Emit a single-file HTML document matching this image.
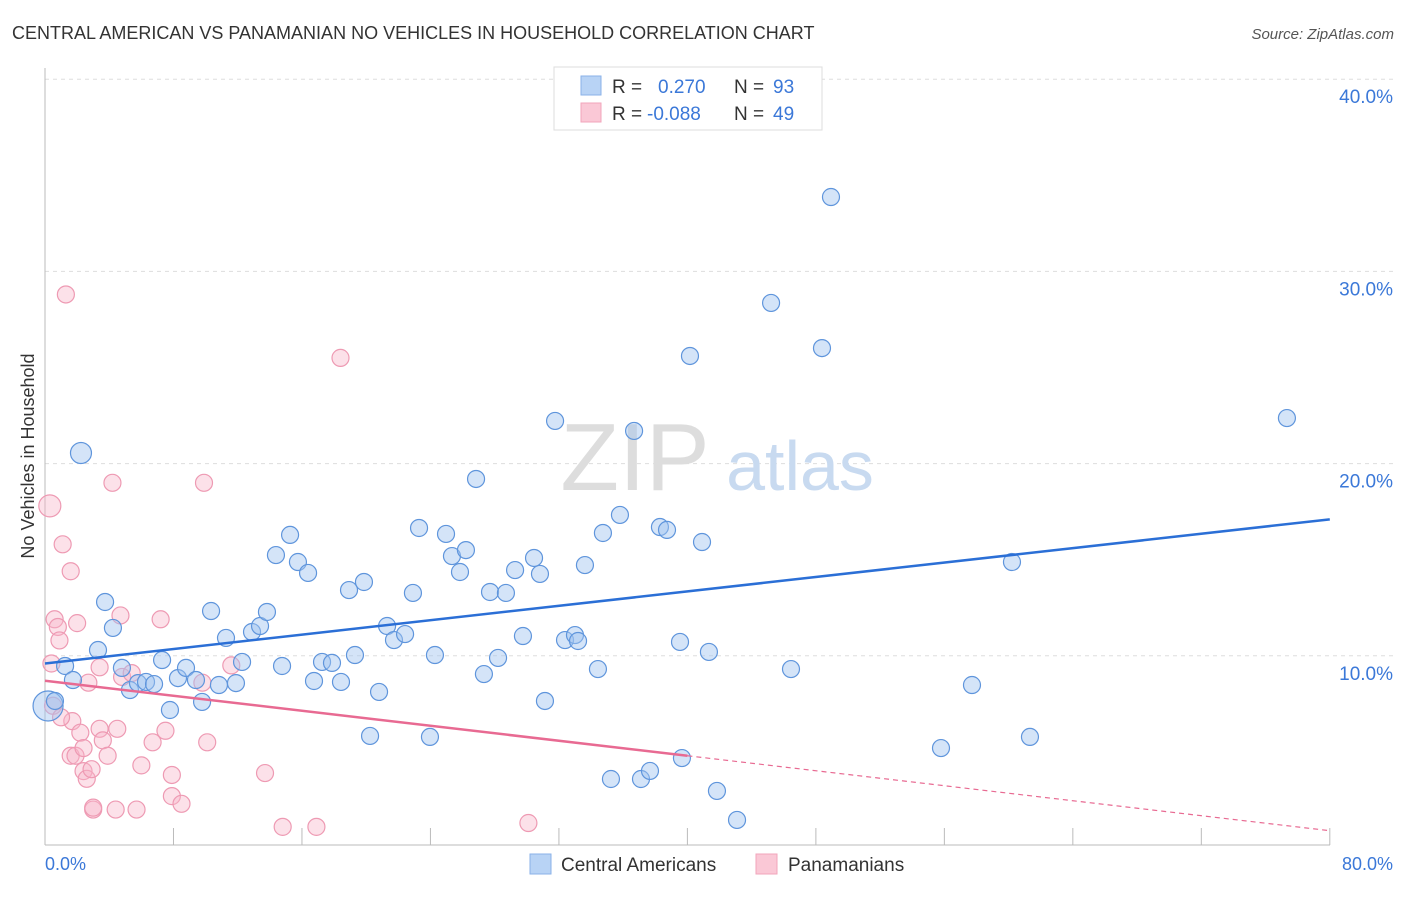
<!DOCTYPE html>
<html><head><meta charset="utf-8"><style>
body{margin:0;background:#fff;font-family:"Liberation Sans",sans-serif}
svg text{font-family:"Liberation Sans",sans-serif}
</style></head><body>
<svg width="1406" height="892" viewBox="0 0 1406 892">
<text x="12" y="39" font-size="18" fill="#333">CENTRAL AMERICAN VS PANAMANIAN NO VEHICLES IN HOUSEHOLD CORRELATION CHART</text>
<text x="1394" y="39" font-size="15" fill="#555" font-style="italic" text-anchor="end">Source: ZipAtlas.com</text>
<g id="grid"></g>
<text x="635" y="490" font-size="96" fill="#ddd" font-family="Liberation Serif" text-anchor="middle">ZIP</text>
<text x="800" y="490" font-size="70" fill="#c8daf0" text-anchor="middle">atlas</text>
<line x1="45" y1="68" x2="45" y2="845" stroke="#bbb"/>
<line x1="45" y1="845" x2="1330" y2="845" stroke="#bbb"/>
<g id="xticks"></g>
<g id="yticks"></g>
<text x="45" y="870" font-size="18" fill="#3b78d8">0.0%</text>
<text x="1393" y="870" font-size="18" fill="#3b78d8" text-anchor="end">80.0%</text>
<text transform="translate(34,456) rotate(-90)" font-size="18" fill="#333" text-anchor="middle">No Vehicles in Household</text>
<g id="pink"></g>
<g id="blue"></g>
<g id="trends"></g>
<g>
<rect x="554" y="67" width="268" height="63" fill="#fff" stroke="#ddd"/>
<rect x="581" y="76" width="20" height="19" fill="#b8d3f5" stroke="#8ab2e8"/>
<rect x="581" y="103" width="20" height="19" fill="#fac8d6" stroke="#f2a5bb"/>
<text x="612" y="93" font-size="19" fill="#333">R =</text><text x="658" y="93" font-size="19" fill="#3b78d8">0.270</text>
<text x="734" y="93" font-size="19" fill="#333">N =</text><text x="773" y="93" font-size="19" fill="#3b78d8">93</text>
<text x="612" y="120" font-size="19" fill="#333">R =</text><text x="647" y="120" font-size="19" fill="#3b78d8">-0.088</text>
<text x="734" y="120" font-size="19" fill="#333">N =</text><text x="773" y="120" font-size="19" fill="#3b78d8">49</text>
</g>
<g>
<rect x="530" y="854" width="21" height="20" fill="#b8d3f5" stroke="#8ab2e8"/>
<text x="561" y="871" font-size="19" fill="#333">Central Americans</text>
<rect x="756" y="854" width="21" height="20" fill="#fac8d6" stroke="#f2a5bb"/>
<text x="788" y="871" font-size="19" fill="#333">Panamanians</text>
</g>
</svg>
<script>
const yTicks=[10,20,30,40];
const xTickVals=[8,16,24,32,40,48,56,64,72,80];
const blueX=[0.19,0.62,1.25,1.74,2.24,3.30,3.74,4.23,4.79,5.29,5.79,6.29,6.79,7.29,7.78,8.28,8.78,9.40,9.78,10.34,10.83,11.27,11.89,12.27,12.89,13.39,13.82,14.38,14.76,15.26,15.75,16.38,16.75,17.25,17.87,18.43,18.93,19.30,19.86,20.24,20.80,21.30,21.73,22.42,22.91,23.29,23.97,24.28,24.97,25.34,25.84,26.21,26.84,27.33,27.71,28.21,28.70,29.27,29.76,30.45,30.82,31.13,31.76,32.38,33.00,33.19,33.62,34.43,34.74,35.24,35.80,36.68,37.11,37.67,38.29,38.73,39.54,39.66,40.16,40.91,41.34,41.84,43.09,45.21,46.45,48.38,48.94,55.79,57.72,60.21,61.33,77.33];
const blueY=[7.39,7.65,9.47,8.74,20.55,10.30,12.80,11.45,9.37,8.22,8.58,8.64,8.53,9.78,7.18,8.84,9.37,8.74,7.60,12.33,8.48,10.93,8.58,9.68,11.24,11.55,12.28,15.24,9.47,16.29,14.88,14.31,8.69,9.68,9.63,8.64,13.42,10.04,13.84,5.83,8.12,11.55,10.82,11.13,13.27,16.65,5.78,10.04,16.34,15.19,14.36,15.50,19.20,9.05,13.32,9.89,13.27,14.46,11.03,15.09,14.26,7.65,22.22,10.82,11.08,10.77,14.72,9.31,16.39,3.59,17.33,21.70,3.59,4.01,16.70,16.55,10.72,4.68,25.60,15.92,10.20,2.97,1.46,28.36,9.31,26.01,33.87,5.20,8.48,14.88,5.78,22.37];
const pinkX=[0.3,0.5,0.6,0.8,1.1,0.9,1.3,1.6,1.7,1.6,1.9,2.0,2.2,2.4,2.4,2.6,2.7,2.9,3.0,3.0,3.4,3.4,3.6,3.9,4.2,4.4,4.5,4.7,4.8,5.4,5.7,6.0,6.7,7.2,7.5,7.9,7.9,8.5,9.8,9.9,10.1,11.6,13.7,14.8,16.9,18.4,30.1,0.4,1.0];
const pinkY=[17.8,7.4,11.9,11.5,15.8,10.8,28.8,14.4,6.6,4.8,4.8,11.7,6.0,5.2,4.0,3.6,8.6,4.1,2.0,2.1,6.2,9.4,5.6,4.8,19.0,2.0,6.2,12.1,8.9,9.1,2.0,4.3,5.5,11.9,6.1,3.8,2.7,2.3,8.6,19.0,5.5,9.5,3.9,1.1,1.1,25.5,1.3,9.6,6.8];
const X=v=>45+v*16.06, Y=v=>848-v*19.22;
const NS="http://www.w3.org/2000/svg";
function mk(t,a,p){const e=document.createElementNS(NS,t);for(const k in a)e.setAttribute(k,a[k]);p.appendChild(e);return e;}
const grid=document.getElementById('grid'),yt=document.getElementById('yticks'),xt=document.getElementById('xticks');
yTicks.forEach(v=>{
const l=mk('line',{x1:45,x2:1393,y1:Y(v),y2:Y(v),stroke:'#ddd','stroke-dasharray':'4,4'},grid);


const t=mk('text',{x:1393,y:Y(v)+24,'font-size':19,fill:'#3b78d8','text-anchor':'end'},yt);
t.textContent=v.toFixed(1)+'%';


});
xTickVals.forEach(v=>{
const l=mk('line',{x1:X(v),x2:X(v),y1:828,y2:845,stroke:'#bbb'},xt);


});
const pg=document.getElementById('pink');
pinkX.forEach((x,i)=>{
const c=mk('circle',{cx:X(x),cy:Y(pinkY[i]),r:i===0?11:8.5,fill:'rgba(248,180,200,0.4)',stroke:'#ee9ab3','stroke-width':1.2},pg);


});
const bg=document.getElementById('blue');
blueX.forEach((x,i)=>{
const c=mk('circle',{cx:X(x),cy:Y(blueY[i]),r:i===0?15:(i===4?10.5:8.5),fill:'rgba(160,195,240,0.45)',stroke:'#5f95dc','stroke-width':1.2},bg);


});
const tg=document.getElementById('trends');
const blueTrend=[9.6,17.1], pinkTrend=[8.7,0.9], pinkSolidEnd=40;
let l=mk('line',{x1:X(0),y1:Y(blueTrend[0]),x2:X(80),y2:Y(blueTrend[1]),stroke:'#2b6fd6','stroke-width':2.5},tg);


const py=v=>pinkTrend[0]+(pinkTrend[1]-pinkTrend[0])*v/80;
l=mk('line',{x1:X(0),y1:Y(py(0)),x2:X(pinkSolidEnd),y2:Y(py(pinkSolidEnd)),stroke:'#e86a92','stroke-width':2.5},tg);


l=mk('line',{x1:X(pinkSolidEnd),y1:Y(py(pinkSolidEnd)),x2:X(80),y2:Y(py(80)),stroke:'#e86a92','stroke-width':1.2,'stroke-dasharray':'5,4'},tg);


</script>
</body></html>
